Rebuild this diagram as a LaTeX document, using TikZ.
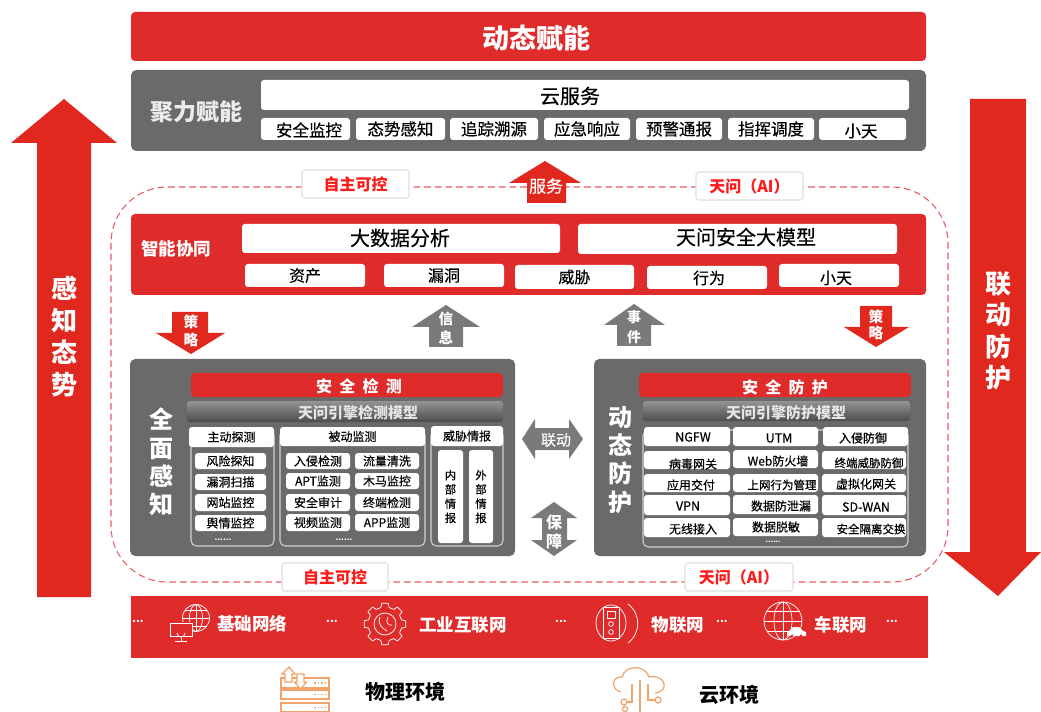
\documentclass[tikz,border=0pt]{standalone}
\usepackage{fontspec}
\setmainfont{Noto Sans CJK SC}
\newfontfamily\medf[FakeBold=0.35]{Noto Sans CJK SC}
\definecolor{rd}{HTML}{E02B2B}
\definecolor{gy}{HTML}{6A6A6A}
\definecolor{dashr}{HTML}{EA5A62}
\definecolor{lab}{HTML}{FF1A1A}
\definecolor{org}{HTML}{F2A26B}
\definecolor{arr}{HTML}{E0281E}
\definecolor{arg}{HTML}{7A7A7A}
\newcommand\fs[1]{\pgfmathsetmacro\fsz{#1*0.75}\pgfmathsetmacro\fsl{#1*0.75*1.18}\fontsize{\fsz}{\fsl}\selectfont}
\newcommand\mf[1]{\medf\fs{#1}}
\tikzset{
  x=0.75pt,y=-0.75pt,
  panelred/.style={fill=rd,rounded corners=3pt},
  panelgrey/.style={fill=gy,rounded corners=4pt},
  whitebox/.style={fill=white,rounded corners=2.2pt,inner sep=0pt,text=black},
  txt/.style={inner sep=0pt,text=black},
  wtxt/.style={inner sep=0pt,text=white,font=\bfseries\fs{14}},
  stack/.style n args={2}{inner sep=0pt,text=white,align=center,font=\bfseries\fontsize{#1}{#2}\selectfont},
  labelbox/.style={fill=white,draw=black!12,line width=0.8pt,inner sep=0pt,text=lab,font=\bfseries\fs{16}},
  outline/.style={draw=black!18,line width=0.8pt,rounded corners=4pt},
  icon/.style={draw=white,line width=0.55pt},
  oicon/.style={draw=org,line width=0.9pt},
  blockred/.style={fill=arr},
  blockgrey/.style={fill=arg},
}
% box with centred text: [font key list]{name}{x1}{y1}{x2}{y2}{text}
\newcommand\wb[7][]{\pgfmathsetmacro\cxx{(#3+#5)/2}\pgfmathsetmacro\cyy{(#4+#6)/2}\pgfmathsetmacro\ww{(#5-#3)*0.75}\pgfmathsetmacro\hh{(#6-#4)*0.75}%
  \node[whitebox,minimum width=\ww pt,minimum height=\hh pt,#1] (#2) at (\cxx,\cyy) {#7};}
% box with text at its own place
\newcommand\bt[9][]{\pgfmathsetmacro\cxx{(#3+#5)/2}\pgfmathsetmacro\cyy{(#4+#6)/2}\pgfmathsetmacro\ww{(#5-#3)*0.75}\pgfmathsetmacro\hh{(#6-#4)*0.75}%
  \node[whitebox,minimum width=\ww pt,minimum height=\hh pt] (#2) at (\cxx,\cyy) {};
  \node[txt,#1] (#2t) at (#7,#8) {#9};}
\begin{document}
\begin{tikzpicture}
\useasboundingbox[fill=white] (0,0) rectangle (1041,712);

% big side arrows
\fill[blockred] (64,99) -- (117,143) -- (91,143) -- (91,597) -- (37,597) -- (37,143) -- (11,143) -- cycle;
\node[stack={19.5}{24}] (ganzhi) at (64,337) {感\\知\\态\\势};
\fill[blockred] (970,99) -- (1026,99) -- (1026,552) -- (1041,552) -- (998,596) -- (944,552) -- (970,552) -- cycle;
\node[stack={19.5}{23.6}] (liandong) at (998,331) {联\\动\\防\\护};

% top
\fill[panelred] (131,12) rectangle (926,61);
\node[wtxt,font=\bfseries\fs{27}] (top) at (536,38) {动态赋能};
\fill[panelgrey] (131,70) rectangle (926,151);
\node[wtxt,font=\bfseries\fs{23},text=white!92!black] (jvli) at (196,112) {聚力赋能};
\bt[font=\mf{20}]{cloud}{261}{80}{909}{110}{570}{96}{云服务}
\bt[font=\mf{16.5}]{s1}{261}{118}{350}{140}{309}{130}{安全监控}
\wb[font=\mf{16.5}]{s2}{356}{118}{445}{140}{态势感知}
\wb[font=\mf{16.5}]{s3}{450}{118}{538}{140}{追踪溯源}
\wb[font=\mf{16.5}]{s4}{544}{118}{630}{140}{应急响应}
\wb[font=\mf{16.5}]{s5}{636}{118}{722}{140}{预警通报}
\wb[font=\mf{16.5}]{s6}{728}{118}{814}{140}{指挥调度}
\bt[font=\mf{16.5}]{s7}{819}{118}{906}{140}{861}{131}{小天}

% dashed frame
\draw[dashr,line width=0.8pt,dash pattern=on 5pt off 3pt,rounded corners=42pt] (111,187) rectangle (948,582);

% labels on frame
\wb[labelbox]{l1}{302}{170}{409}{198}{自主可控}
\wb[labelbox]{l2}{696}{172}{803}{200}{天问（AI）}
\wb[labelbox]{l3}{282}{563}{388}{591}{自主可控}
\wb[labelbox]{l4}{685}{563}{793}{591}{天问（AI）}

% service arrow
\fill[blockred] (545,161) -- (581,183) -- (566,183) -- (566,203) -- (527,203) -- (527,183) -- (509,183) -- cycle;
\node[wtxt,font=\mf{17}] (fuwu) at (546,186) {服务};

% intelligence panel
\fill[panelred] (131,214) rectangle (926,295);
\node[wtxt,font=\bfseries\fs{17.5}] (zhineng) at (176,249) {智能协同};
\bt[font=\mf{20}]{bd}{242}{224}{560}{253}{400}{238}{大数据分析}
\bt[font=\mf{20}]{tw}{578}{224}{897}{254}{746}{237}{天问安全大模型}
\wb[font=\mf{16}]{i1}{245}{264}{365}{287}{资产}
\wb[font=\mf{16}]{i2}{384}{264}{504}{287}{漏洞}
\wb[font=\mf{16}]{i3}{515}{265}{634}{289}{威胁}
\bt[font=\mf{16}]{i4}{647}{266}{767}{289}{709}{278}{行为}
\bt[font=\mf{16}]{i5}{779}{264}{899}{287}{836}{278}{小天}

% small arrows
\fill[blockred] (172,312) -- (208,312) -- (208,333) -- (225,333) -- (191,354) -- (156,333) -- (172,333) -- cycle;
\node[stack={11}{14}] (cl1) at (191,331) {策\\略};
\fill[blockgrey] (446,305) -- (480,327) -- (463,327) -- (463,347) -- (429,347) -- (429,327) -- (412,327) -- cycle;
\node[stack={11}{14}] (xx) at (446,328) {信\\息};
\fill[blockgrey] (634,304) -- (665,325) -- (651,325) -- (651,346) -- (617,346) -- (617,325) -- (604,325) -- cycle;
\node[stack={10.5}{15}] (sj) at (634,327) {事\\件};
\fill[blockred] (860,306) -- (892,306) -- (892,327) -- (909,327) -- (876,347) -- (844,327) -- (860,327) -- cycle;
\node[stack={11}{12.5}] (cl2) at (876,325) {策\\略};

% link arrows
\fill[blockgrey] (522,439) -- (535,419) -- (535,428) -- (569,428) -- (569,419) -- (583,439) -- (569,459) -- (569,450) -- (535,450) -- (535,459) -- cycle;
\node[wtxt,font=\mf{15}] (ld) at (556,440) {联动};
\fill[blockgrey] (554,502) -- (577,518) -- (567,518) -- (567,540) -- (577,540) -- (554,556) -- (531,540) -- (542,540) -- (542,518) -- (531,518) -- cycle;
\node[stack={12}{14}] (bz) at (554,532) {保\\障};

% left panel
\fill[panelgrey] (130,359) rectangle (515,556);
\node[stack={18}{21.2}] (qm) at (161,462) {全\\面\\感\\知};
\fill[panelred] (191,373) rectangle (503,397);
\node[wtxt,font=\bfseries\fs{16}] (aq1) at (359,386) {安\hspace{0.45em}全\hspace{0.45em}检\hspace{0.45em}测};
\shade[top color=black!42,bottom color=black!70,rounded corners=2pt] (187,401) rectangle (503,422);
\node[wtxt,font=\bfseries\fs{15},text=white!90!black] (m1) at (358,413) {天问引擎检测模型};
\draw[outline] (191,430) rectangle (274,546);
\draw[outline] (280,430) rectangle (425,546);
\draw[outline] (431,430) rectangle (503,546);
\wb[font=\mf{12}]{h1}{189}{427}{274}{447}{主动探测}
\wb[font=\mf{12}]{h2}{280}{427}{425}{446}{被动监测}
\wb[font=\mf{12}]{h3}{431}{426}{503}{446}{威胁情报}
\wb[font=\mf{12}]{a1}{195}{453}{266}{469}{风险探知}
\wb[font=\mf{12}]{a2}{195}{474}{266}{490}{漏洞扫描}
\wb[font=\mf{12}]{a3}{195}{494}{266}{511}{网站监控}
\wb[font=\mf{12}]{a4}{195}{515}{266}{531}{舆情监控}
\node[wtxt,font=\bfseries\fs{8}] (d1) at (223,540) {......};
\wb[font=\mf{12}]{b1}{286}{453}{350}{469}{入侵检测}
\wb[font=\mf{12}]{b2}{355}{453}{419}{469}{流量清洗}
\wb[font=\mf{12}]{b3}{286}{473}{350}{489}{APT监测}
\wb[font=\mf{12}]{b4}{355}{473}{419}{489}{木马监控}
\wb[font=\mf{12}]{b5}{286}{494}{350}{511}{安全审计}
\wb[font=\mf{12}]{b6}{355}{494}{419}{511}{终端检测}
\wb[font=\mf{12}]{b7}{286}{514}{350}{531}{视频监测}
\wb[font=\mf{12}]{b8}{355}{514}{419}{531}{APP监测}
\node[wtxt,font=\bfseries\fs{8}] (d2) at (344,540) {......};
\wb[font=\medf\fontsize{8.5}{10.7}\selectfont,align=center]{c1}{438}{450}{463}{543}{内\\部\\情\\报}
\wb[font=\medf\fontsize{8.5}{10.7}\selectfont,align=center]{c2}{469}{450}{493}{543}{外\\部\\情\\报}

% right panel
\fill[panelgrey] (594,359) rectangle (926,556);
\node[stack={18}{21.2}] (dt) at (620,460) {动\\态\\防\\护};
\fill[panelred] (639,373) rectangle (911,397);
\node[wtxt,font=\bfseries\fs{16}] (aq2) at (785,387) {安\hspace{0.45em}全\hspace{0.45em}防\hspace{0.45em}护};
\shade[top color=black!42,bottom color=black!70,rounded corners=2pt] (643,401) rectangle (910,421);
\node[wtxt,font=\bfseries\fs{15},text=white!90!black] (m2) at (786,413) {天问引擎防护模型};
\draw[outline] (643,430) rectangle (908,547);
\bt[font=\mf{12.5}]{r1}{644}{427}{730}{446}{693}{437}{NGFW}
\bt[font=\mf{12.5}]{r2}{733}{427}{818}{446}{779}{438}{UTM}
\bt[font=\mf{12}]{r3}{823}{427}{908}{446}{863}{438}{入侵防御}
\bt[font=\mf{12}]{r4}{644}{451}{730}{469}{693}{464}{病毒网关}
\bt[font=\mf{12}]{r5}{733}{450}{818}{468}{778}{461}{Web防火墙}
\bt[font=\mf{11.5}]{r6}{822}{451}{906}{469}{869}{463}{终端威胁防御}
\bt[font=\mf{12}]{r7}{644}{474}{730}{492}{691}{485}{应用交付}
\bt[font=\mf{11.5}]{r8}{733}{474}{818}{492}{782}{485}{上网行为管理}
\bt[font=\mf{12}]{r9}{822}{474}{906}{492}{866}{484}{虚拟化网关}
\bt[font=\mf{12.5}]{r10}{644}{495}{730}{515}{688}{506}{VPN}
\bt[font=\mf{12}]{r11}{733}{495}{818}{514}{781}{506}{数据防泄漏}
\bt[font=\mf{12.5}]{r12}{822}{495}{906}{515}{866}{507}{SD-WAN}
\bt[font=\mf{12}]{r13}{644}{518}{730}{537}{693}{529}{无线接入}
\bt[font=\mf{12}]{r14}{733}{518}{818}{536}{776}{527}{数据脱敏}
\bt[font=\mf{11.5}]{r15}{822}{518}{906}{537}{871}{529}{安全隔离交换}
\node[wtxt,font=\bfseries\fs{7}] (d3) at (773,542) {......};

% bottom bar
\fill[rd] (131,596) rectangle (928,658);
\node[wtxt,font=\bfseries\fs{17.5}] (n1) at (252,624) {基础网络};
\node[wtxt,font=\bfseries\fs{17.5}] (n2) at (463,625) {工业互联网};
\node[wtxt,font=\bfseries\fs{17.5}] (n3) at (678,625) {物联网};
\node[wtxt,font=\bfseries\fs{17.5}] (n4) at (841,625) {车联网};
\foreach \nm/\px in {e1/138,e2/332,e3/561,e4/722,e5/892}{\node[wtxt,font=\bfseries\fs{11}] (\nm) at (\px,621) {...};}

% globe 1 + monitor
\begin{scope}[icon]
\draw (196,618) circle[radius=13.5];
\draw (196,604.5) -- (196,631.5) (182.5,618) -- (209.5,618) (185,610) -- (207,610) (185,626) -- (207,626);
\draw (196,618) ellipse[x radius=6.5,y radius=13.5];
\fill[rd] (169,622) rectangle (193,637);
\draw (170,623) rectangle (192,636);
\draw (177,633) arc[start angle=180,end angle=0,radius=4];
\draw (181,636) -- (181,641) (175,641.5) -- (187,641.5);
% gear
\draw (385,624) circle[radius=11];
\foreach \a in {0,45,...,315}{
  \draw ([shift={(\a-14:17)}]385,624) -- ([shift={(\a-9:21)}]385,624) -- ([shift={(\a+9:21)}]385,624) -- ([shift={(\a+14:17)}]385,624) -- ([shift={(\a+31:17)}]385,624);
}
\draw (380,617) .. controls (377,624) and (382,628) .. (387,631) (388,617) .. controls (385,622) and (388,626) .. (392,625);
% device
\draw (611,623) ellipse[x radius=15,y radius=18];
\fill[rd] (603,608) rectangle (619,638);
\draw (603,607) rectangle (619,638);
\draw (607,611) rectangle (615,618);
\draw (611,624) circle[radius=2.4] (611,632) circle[radius=2.4];
\draw (628,604) .. controls (641,614) and (641,633) .. (628,643);
% globe 2 + car
\draw (783,621) circle[radius=19];
\draw (783,621) ellipse[x radius=9,y radius=19];
\draw (783,602) -- (783,640) (764,621) -- (802,621) (767,611) -- (799,611) (767,631) -- (799,631);
\fill[white] (789,631) -- (793,627) -- (799,627) -- (803,631) -- (806,632) -- (806,636) -- (787,636) -- (787,632) -- cycle;
\fill[rd] (792,636) circle[radius=1.6] (801,636) circle[radius=1.6];
\end{scope}

% bottom environment
\begin{scope}[oicon]
\draw (281,678) rectangle (329,688);
\draw (281,690) rectangle (329,699);
\draw (281,703) rectangle (329,711.5);
\foreach \yy in {683,694.5,707.5}{\draw[line width=0.9pt,dash pattern=on 1.2pt off 1.6pt] (314,\yy) -- (326,\yy);}
\filldraw[fill=white] (285,682) -- (285,674) -- (282,674) -- (289,667) -- (295,674) -- (292,674) -- (292,682) -- cycle;
\filldraw[fill=white] (297,674) -- (297,682) -- (294.5,682) -- (300.5,689) -- (306.5,682) -- (304,682) -- (304,674) -- cycle;
\draw (621,692) .. controls (611,690) and (611,676) .. (622,677) .. controls (625,665) and (645,664) .. (649,677) .. controls (667,674) and (669,692) .. (655,693);
\draw (640,680) -- (640,712) (632,684) -- (632,702) -- (627,702) (648,684) -- (648,700) -- (655,700);
\draw (624,702) circle[radius=3] (625,709) circle[radius=2.6] (658,700) circle[radius=3];
\end{scope}
\node[txt,font=\bfseries\fs{20}] (wl) at (405,692) {物理环境};
\node[txt,font=\bfseries\fs{20}] (yh) at (729,695) {云环境};
\end{tikzpicture}
\end{document}
